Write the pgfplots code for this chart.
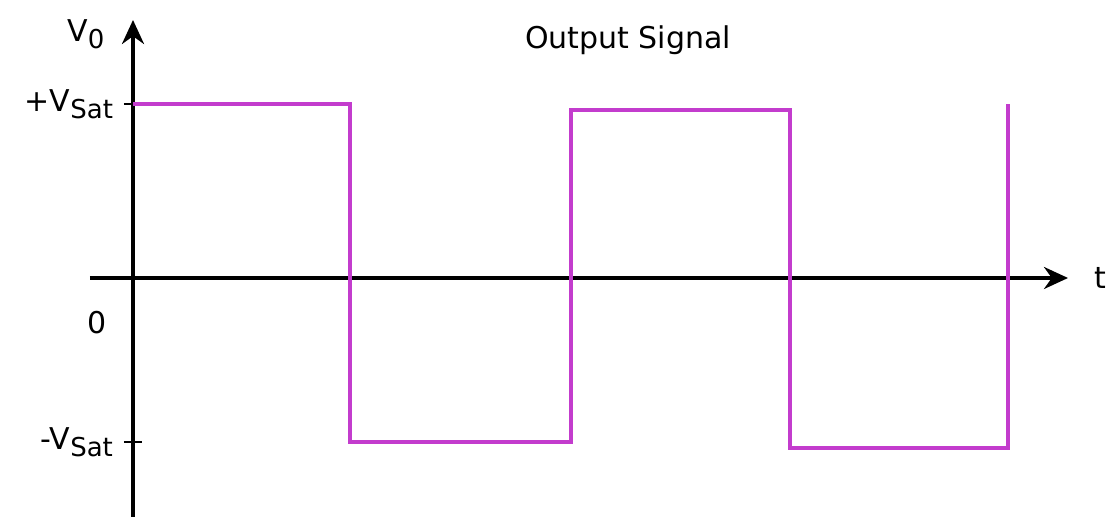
\documentclass[border=0pt]{standalone}
\usepackage{pgfplots}
\pgfplotsset{compat=1.18}
\usepackage{fontspec}
\setmainfont{DejaVu Sans}
\usetikzlibrary{arrows.meta}
\definecolor{wave}{RGB}{195,60,205}
\newcommand{\sub}[1]{\raisebox{-0.45ex}{\fontsize{13}{14}\selectfont #1}}
\begin{document}
\begin{tikzpicture}
\begin{axis}[x=0.5pt,y=0.5pt,
  axis lines=middle,
  xmin=-43,xmax=935,ymin=-239,ymax=258,
  axis line style={line width=1.8pt,black,-{Stealth[length=12pt,width=11pt]}},
  xtick=\empty,
  ytick={174,-164},
  yticklabels={+V\sub{Sat},-V\sub{Sat}},
  major tick length=9pt,
  tick style={line width=1.3pt,black},
  yticklabel style={anchor=east,xshift=-2pt,font=\fontsize{15}{17}\selectfont},
  clip=false]
\addplot[wave,line width=1.6pt] coordinates {(0,174)(217,174)(217,-164)(438,-164)(438,168)(657,168)(657,-170)(875,-170)(875,174)};
\node[font=\fontsize{15}{17}\selectfont] at (axis cs:-36,-45) {0};
\node[font=\fontsize{15}{17}\selectfont] at (axis cs:-47,244) {V\sub{0}};
\node[font=\fontsize{15}{17}\selectfont] at (axis cs:967,0) {t};
\node[font=\fontsize{15}{17}\selectfont] at (axis cs:495,238) {Output Signal};
\coordinate (bl) at (axis cs:-133,-239);
\coordinate (tr) at (axis cs:975,278);
\end{axis}
\pgfresetboundingbox
\useasboundingbox (bl) rectangle (tr);
\end{tikzpicture}
\end{document}
